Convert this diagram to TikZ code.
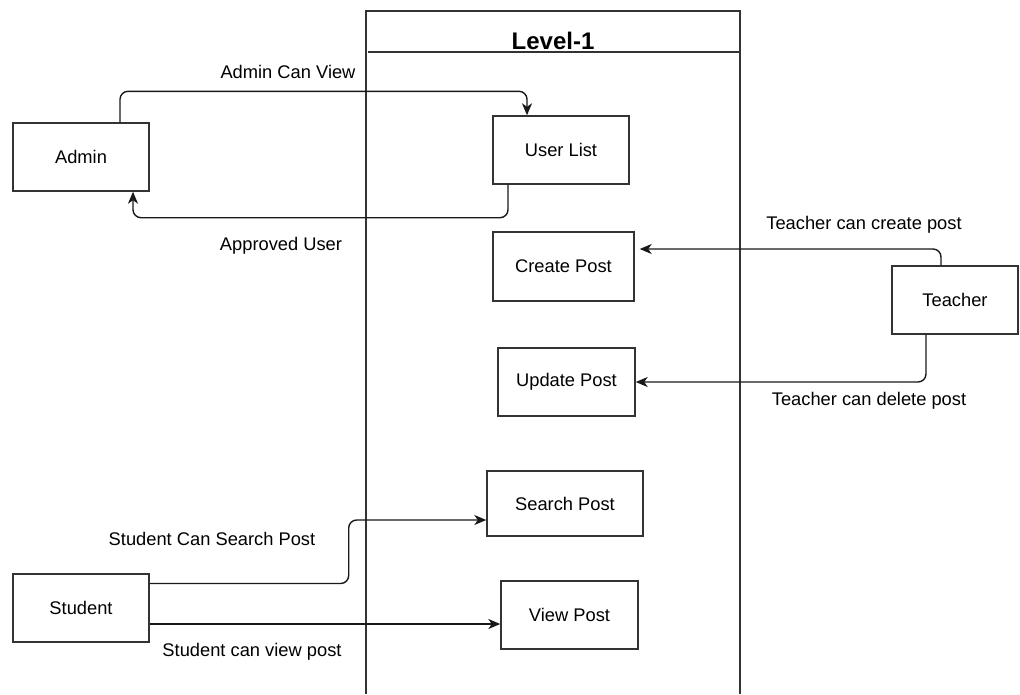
\documentclass[tikz,border=0pt]{standalone}
\usepackage{fontspec}
\setmainfont{Liberation Sans}
\usetikzlibrary{arrows.meta}
\begin{document}
\begin{tikzpicture}[x=1pt,y=-1pt,
  every node/.style={font=\fontsize{18.3}{21}\selectfont, inner sep=0pt},
  box/.style={draw=black!80, line width=1.4pt, fill=white, minimum width=#1, minimum height=68pt},
  box/.default=136pt,
  conn/.style={draw=black!90, line width=1.4pt, rounded corners=8pt,
    -{Stealth[length=12pt,width=10pt,inset=3.5pt]}},
  lbl/.style={text=black}]
\useasboundingbox (0,0) rectangle (1020,694);

% process boundary
\draw[black!80, line width=1.4pt] (366,694) -- (366,11) -- (740,11) -- (740,694);
\draw[black!80, line width=1.4pt] (368,52) -- (741,52);
\node[font=\bfseries\fontsize{24}{27}\selectfont] (title) at (553,41) {Level-1};

% external entities
\node[box] (admin) at (81,157) {Admin};
\node[box=126pt] (teacher) at (955,300) {Teacher};
\node[box] (student) at (81,608) {Student};

% processes
\node[box] (userlist) at (561,150) {User List};
\node[box=141pt, minimum height=69pt] (createpost) at (563.5,266.5) {Create Post};
\node[box=137pt] (updatepost) at (566.5,382) {Update Post};
\node[box=156pt, minimum height=65pt] (searchpost) at (565,503.5) {Search Post};
\node[box=137pt] (viewpost) at (569.5,615) {View Post};

% flows
\draw[conn] ([xshift=39pt]admin.north) -- ++(0,-31) -| ([xshift=-34pt]userlist.north);
\draw[conn] ([xshift=-53pt]userlist.south) -- ++(0,33) -| ([xshift=52pt]admin.south);
\draw[conn, shorten >=5pt] ([xshift=-14pt]teacher.north) |- ([yshift=17.5pt]createpost.east);
\draw[conn] ([xshift=-29pt]teacher.south) |- (updatepost.east);
\draw[conn] ([yshift=24.5pt]student.east) -- ++(199,0) |- ([yshift=-16.5pt]searchpost.west);
\draw[conn] ([yshift=-16pt]student.east) -- ([yshift=-9pt]viewpost.west);

% flow labels
\node[lbl] (l1) at (288,72) {Admin Can View};
\node[lbl] (l2) at (281,246) {Approved User};
\node[lbl] (l3) at (864,225) {Teacher can create post};
\node[lbl] (l4) at (869,401) {Teacher can delete post};
\node[lbl] (l5) at (212,539) {Student Can Search Post};
\node[lbl] (l6) at (252,652) {Student can view post};
\end{tikzpicture}
\end{document}
